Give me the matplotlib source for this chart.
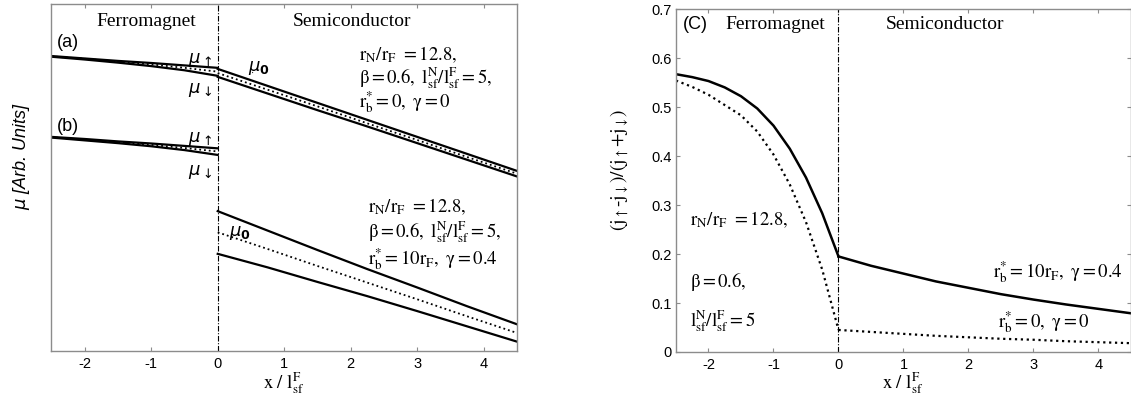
import matplotlib
matplotlib.use("Agg")
import matplotlib.pyplot as plt

plt.rcParams['font.family'] = ['Liberation Serif', 'DejaVu Sans']
plt.rcParams['mathtext.fontset'] = 'stix'
plt.rcParams['axes.unicode_minus'] = False

# ---- left panel: chemical potentials (arb. units) ----
xF = [-2.5, -2.0, -1.5, -1.0, -0.5, 0.0]
xS = [0.0, 0.75, 1.5, 2.25, 3.0, 3.75, 4.5]

# (a) r_b* = 0
a_up_F = [0.850, 0.843, 0.836, 0.830, 0.823, 0.816]
a_dn_F = [0.848, 0.840, 0.831, 0.821, 0.809, 0.793]
a_mid_F = [0.849, 0.842, 0.834, 0.826, 0.816, 0.805]
a_up_S = [0.813, 0.764, 0.715, 0.666, 0.617, 0.568, 0.519]
a_mid_S = [0.801, 0.753, 0.705, 0.656, 0.608, 0.559, 0.511]
a_dn_S = [0.790, 0.742, 0.694, 0.647, 0.599, 0.551, 0.503]

# (b) r_b* = 10 r_F
b_up_F = [0.617, 0.611, 0.604, 0.598, 0.591, 0.584]
b_dn_F = [0.615, 0.607, 0.599, 0.590, 0.579, 0.565]
b_mid_F = [0.616, 0.609, 0.602, 0.594, 0.585, 0.575]
b_up_S = [0.403, 0.347, 0.291, 0.236, 0.183, 0.129, 0.077]
b_mid_S = [0.342, 0.294, 0.245, 0.197, 0.149, 0.100, 0.052]
b_dn_S = [0.280, 0.241, 0.199, 0.158, 0.115, 0.071, 0.027]

# ---- right panel: current spin polarization ----
xF2 = [-2.5, -2.25, -2.0, -1.75, -1.5, -1.25, -1.0, -0.75, -0.5, -0.25, 0.0]
xS2 = [0.0, 0.5, 1.0, 1.5, 2.0, 2.5, 3.0, 3.5, 4.0, 4.5]
P_barrier_F = [0.567, 0.561, 0.553, 0.540, 0.522, 0.497, 0.462, 0.415, 0.356, 0.283, 0.195]
P_barrier_S = [0.195, 0.176, 0.160, 0.144, 0.131, 0.118, 0.107, 0.097, 0.088, 0.079]
P_ohmic_F = [0.554, 0.541, 0.525, 0.504, 0.483, 0.450, 0.403, 0.342, 0.265, 0.168, 0.045]
P_ohmic_S = [0.045, 0.041, 0.037, 0.033, 0.030, 0.027, 0.025, 0.022, 0.020, 0.018]

xticks = [-2, -1, 0, 1, 2, 3, 4]
yticks2 = [0, 0.1, 0.2, 0.3, 0.4, 0.5, 0.6, 0.7]

fig = plt.figure(figsize=(11.31, 3.99), dpi=100)
ax1 = fig.add_axes([0.0455, 0.1203, 0.4116, 0.8697])
ax2 = fig.add_axes([0.5977, 0.1178, 0.4023, 0.8596])

sans = 'Liberation Sans'
serif = 'Liberation Serif'


def style_axes(ax):
    for s in ax.spines.values():
        s.set_color('0.55')
        s.set_linewidth(1.0)
    ax.tick_params(direction='in', length=3, color='0.55', top=True,
                   labelsize=10.5, pad=4.5)
    for lab in ax.get_xticklabels() + ax.get_yticklabels():
        lab.set_fontfamily(sans)


lw = 1.6
for up, mid, dn, xs in [(a_up_F, a_mid_F, a_dn_F, xF), (a_up_S, a_mid_S, a_dn_S, xS),
                        (b_up_F, b_mid_F, b_dn_F, xF), (b_up_S, b_mid_S, b_dn_S, xS)]:
    ax1.plot(xs, up, 'k-', lw=lw)
    ax1.plot(xs, dn, 'k-', lw=lw)
    ax1.plot(xs, mid, 'k:', lw=1.3)

ax1.axvline(0, color='k', lw=0.8, ls=(0, (5, 1.5, 1, 1.5)))
ax1.set_xlim(-2.5, 4.5)
ax1.set_ylim(0, 1)
ax1.set_xticks(xticks)
ax1.set_yticks([])
style_axes(ax1)

ax1.text(-1.08, 0.950, 'Ferromagnet', fontsize=14, family=serif, ha='center', va='center')
ax1.text(2.02, 0.950, 'Semiconductor', fontsize=14, family=serif, ha='center', va='center')
ax1.text(-2.42, 0.889, '(a)', fontsize=13, family=sans, va='center')
ax1.text(-2.42, 0.648, '(b)', fontsize=13, family=sans, va='center')

mu_kw = dict(fontsize=13, math_fontfamily='dejavusans', va='center')
ax1.text(-0.45, 0.839, r'$\mu_{\uparrow}$', **mu_kw)
ax1.text(-0.45, 0.752, r'$\mu_{\downarrow}$', **mu_kw)
ax1.text(-0.45, 0.610, r'$\mu_{\uparrow}$', **mu_kw)
ax1.text(-0.45, 0.517, r'$\mu_{\downarrow}$', **mu_kw)
ax1.text(0.46, 0.815, r'$\mu_{\mathbf{0}}$', **mu_kw)
ax1.text(0.17, 0.340, r'$\mu_{\mathbf{0}}$', **mu_kw)
ax1.annotate('', xy=(0.50, 0.795), xytext=(0.55, 0.81),
             arrowprops=dict(arrowstyle='-', color='k', lw=0.6))

ann = dict(fontsize=13.5, va='baseline')
ax1.text(2.12, 0.839, r'$\mathrm{r_N/r_F\ =12.8,}$', **ann)
ax1.text(2.12, 0.770, r'$\mathrm{\beta{=}0.6,\ l_{sf}^{N}/l_{sf}^{F}{=}5,}$', **ann)
ax1.text(2.12, 0.701, r'$\mathrm{r_b^{*}{=}0,\ \gamma{=}0}$', **ann)
ax1.text(2.26, 0.401, r'$\mathrm{r_N/r_F\ =12.8,}$', **ann)
ax1.text(2.26, 0.326, r'$\mathrm{\beta{=}0.6,\ l_{sf}^{N}/l_{sf}^{F}{=}5,}$', **ann)
ax1.text(2.26, 0.248, r'$\mathrm{r_b^{*}{=}10r_F,\ \gamma{=}0.4}$', **ann)

# ---- right panel ----
ax2.plot(xF2, P_barrier_F, 'k-', lw=1.8)
ax2.plot(xS2, P_barrier_S, 'k-', lw=1.8)
ax2.plot(xF2, P_ohmic_F, 'k:', lw=1.6)
ax2.plot(xS2, P_ohmic_S, 'k:', lw=1.6)
ax2.axvline(0, color='k', lw=0.8, ls=(0, (5, 1.5, 1, 1.5)))
ax2.set_xlim(-2.5, 4.5)
ax2.set_ylim(0, 0.7)
ax2.set_xticks(xticks)
ax2.set_yticks(yticks2)
ax2.set_yticklabels(['0', '0.1', '0.2', '0.3', '0.4', '0.5', '0.6', '0.7'])
style_axes(ax2)
ax2.tick_params(axis='y', right=True, pad=3)

ax2.text(-2.40, 0.668, '(C)', fontsize=13, family=sans, va='center')
ax2.text(-1.74, 0.669, 'Ferromagnet', fontsize=14, family=serif, va='center')
ax2.text(0.72, 0.669, 'Semiconductor', fontsize=14, family=serif, va='center')
ax2.text(-2.28, 0.259, r'$\mathrm{r_N/r_F\ =12.8,}$', **ann)
ax2.text(-2.28, 0.133, r'$\mathrm{\beta{=}0.6,}$', **ann)
ax2.text(-2.28, 0.051, r'$\mathrm{l_{sf}^{N}/l_{sf}^{F}{=}5}$', **ann)
ax2.text(2.38, 0.151, r'$\mathrm{r_b^{*}{=}10r_F,\ \gamma{=}0.4}$', **ann)
ax2.text(2.45, 0.049, r'$\mathrm{r_b^{*}{=}0,\ \gamma{=}0}$', **ann)

# axis labels
fig.text(22 / 1131, 1 - 156 / 399, r'$\mu$ [Arb. Units]', rotation=90, fontsize=13,
         family=sans, style='italic', ha='center', va='center',
         math_fontfamily='dejavusans')
fig.text(620 / 1131, 1 - 170 / 399,
         r'$\mathrm{(j_{\uparrow}\text{-}j_{\downarrow})/(j_{\uparrow}{+}j_{\downarrow})}$',
         rotation=90, fontsize=14, ha='center', va='center')
fig.text(284 / 1131, 1 - 389 / 399, r'$\mathrm{x\ /\ l_{sf}^{F}}$', fontsize=13.5,
         ha='center', va='baseline')
fig.text(903 / 1131, 1 - 389 / 399, r'$\mathrm{x\ /\ l_{sf}^{F}}$', fontsize=13.5,
         ha='center', va='baseline')

fig.savefig('out.png', dpi=100)
